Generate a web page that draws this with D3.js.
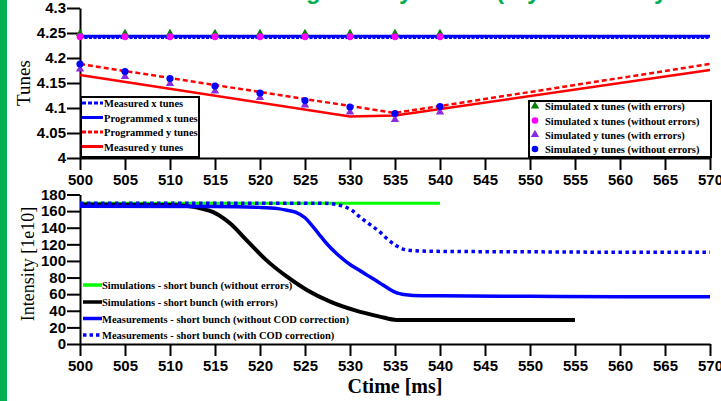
<!DOCTYPE html>
<html><head><meta charset="utf-8">
<script src="https://cdn.jsdelivr.net/npm/d3@7"></script>
<style>
body{margin:0;background:#fff;}
svg{display:block;}
.tick text{font-family:"Liberation Sans",Arial,sans-serif;font-weight:bold;font-size:15px;fill:#000;}
.leg{font-family:"Liberation Serif","Times New Roman",serif;font-weight:bold;font-size:10.5px;fill:#000;}
</style></head>
<body>
<script>
// ---------- data ----------
const xTicks = [500,505,510,515,520,525,530,535,540,545,550,555,560,565,570];
const tuneTicks = [4,4.05,4.1,4.15,4.2,4.25,4.3];
const intTicks = [0,20,40,60,80,100,120,140,160,180];

const simTime = [500,505,510,515,520,525,530,535,540];
const simXWithErr = [4.249,4.249,4.249,4.249,4.249,4.249,4.249,4.249,4.249];
const simXNoErr   = [4.2425,4.2425,4.2425,4.2425,4.2425,4.2425,4.2425,4.2425,4.2425];
const simYWithErr = [4.178,4.163,4.149,4.134,4.121,4.106,4.092,4.077,4.092];
const simYNoErr   = [4.188,4.173,4.159,4.144,4.130,4.115,4.102,4.089,4.103];

const progXTime = [500,570];           const progX = [4.2435,4.2435];
const measXTime = [500,570];           const measX = [4.2405,4.2405];
const progYTime = [500,535,570];       const progY = [4.188,4.090,4.188];
const measYTime = [500,530,535,570];   const measY = [4.166,4.083,4.085,4.176];

const greenTime = [500,540];           const greenInt = [169.5,169.5];
const blackTime = [500,510,512,513.5,514.8,516,516.7,518.5,520.7,523,525.2,527.8,530.4,533.3,535.2,540,555];
const blackInt  = [168,167.5,166,163,158.8,151,145,125,101,81,65,51,41,33,29,29,29];
const blueTime  = [500,515,520,522,523,524,525,525.6,526.5,527.4,528.5,529.6,531,532.2,533.3,534.4,535.2,536,537,540,550,560,570];
const blueInt   = [166,165.5,164.5,163,161,158.5,152,145,133,121,109,99,89,81,73.5,66,61.5,59.5,58.5,58,57.5,57,57];
const dotTime   = [500,520,527,528.5,529.5,530.2,531.2,532.2,533.2,534.2,535.2,536,537,540,550,560,570];
const dotInt    = [169.5,169.5,169.5,168,165,161,152,144,136,126,118,114,112.5,111.5,111,110.5,110.5];

const tuneLegend = ["Measured x tunes","Programmed x tunes","Programmed y tunes","Measured y tunes"];
const simLegend = ["Simulated x tunes (with errors)","Simulated x tunes (without errors)","Simulated y tunes (with errors)","Simulated y tunes (without errors)"];
const intLegend = ["Simulations - short bunch (without errors)","Simulations - short bunch (with errors)","Measurements - short bunch (without COD correction)","Measurements - short bunch (with COD correction)"];
const titleParts = ["g","y","(","y","y"];

// ---------- drawing ----------
const W=721,H=401;
const svg = d3.select("body").append("svg").attr("width",W).attr("height",H);
svg.append("rect").attr("x",0).attr("y",0).attr("width",7).attr("height",H).attr("fill","#00b050");

// title fragments (cut at top edge as in the reference)
const titleX=[306,399,496,527,654];
svg.selectAll("text.title").data(titleParts).join("text").attr("class","title")
  .attr("x",(d,i)=>titleX[i]).attr("y",-1)
  .attr("font-family","Liberation Sans, Arial, sans-serif").attr("font-weight","bold")
  .attr("font-size",24).attr("fill","#00b050").text(d=>d);

const x = d3.scaleLinear().domain([500,570]).range([80,710]);
const yT = d3.scaleLinear().domain([4,4.3]).range([158,8]);
const yB = d3.scaleLinear().domain([0,180]).range([344,194.5]);

function styleAxis(g){
  g.selectAll("path.domain").attr("stroke","#000").attr("stroke-width",2);
  g.selectAll(".tick line").attr("stroke","#000").attr("stroke-width",2);
}
// top axes
svg.append("g").attr("transform","translate(80,0)")
  .call(d3.axisLeft(yT).tickValues(tuneTicks).tickSize(13).tickSizeOuter(0).tickPadding(1).tickFormat(d3.format("~g")))
  .call(styleAxis);
svg.append("g").attr("transform","translate(0,158)")
  .call(d3.axisBottom(x).tickValues(xTicks).tickSize(12).tickSizeOuter(0).tickPadding(4).tickFormat(d3.format("d")))
  .call(styleAxis);
// bottom axes
svg.append("g").attr("transform","translate(80,0)")
  .call(d3.axisLeft(yB).tickValues(intTicks).tickSize(13).tickSizeOuter(0).tickPadding(1).tickFormat(d3.format("d")))
  .call(styleAxis);
svg.append("g").attr("transform","translate(0,344)")
  .call(d3.axisBottom(x).tickValues(xTicks).tickSize(12).tickSizeOuter(0).tickPadding(4).tickFormat(d3.format("d")))
  .call(styleAxis);

// axis titles
svg.append("text").attr("transform","translate(30,83) rotate(-90)").attr("text-anchor","middle")
  .attr("font-family","Liberation Serif, serif").attr("font-size",19).text("Tunes");
svg.append("text").attr("transform","translate(34,264) rotate(-90)").attr("text-anchor","middle")
  .attr("font-family","Liberation Serif, serif").attr("font-size",18).text("Intensity [1e10]");
svg.append("text").attr("x",395).attr("y",393).attr("text-anchor","middle")
  .attr("font-family","Liberation Serif, serif").attr("font-weight","bold").attr("font-size",20).text("Ctime [ms]");

// top lines
const lineT = (ts,vs)=>d3.line().x((d,i)=>x(ts[i])).y((d,i)=>yT(vs[i]))(vs);
svg.append("path").attr("d",lineT(progXTime,progX)).attr("fill","none").attr("stroke","#0000ff").attr("stroke-width",3);
svg.append("path").attr("d",lineT(measXTime,measX)).attr("fill","none").attr("stroke","#0000ff").attr("stroke-width",2.5).attr("stroke-dasharray","3,1.5");
svg.append("path").attr("d",lineT(progYTime,progY)).attr("fill","none").attr("stroke","#ff0000").attr("stroke-width",2.5).attr("stroke-dasharray","5,3");
svg.append("path").attr("d",lineT(measYTime,measY)).attr("fill","none").attr("stroke","#ff0000").attr("stroke-width",2.5);

const tri = d3.symbol().type(d3.symbolTriangle).size(30);
function tris(vals,color){
  svg.append("g").selectAll("path").data(vals).join("path").attr("d",tri)
    .attr("transform",(d,i)=>`translate(${x(simTime[i])},${yT(d)})`).attr("fill",color);
}
function dots(vals,color,r){
  svg.append("g").selectAll("circle").data(vals).join("circle")
    .attr("cx",(d,i)=>x(simTime[i])).attr("cy",d=>yT(d)).attr("r",r).attr("fill",color);
}
tris(simXWithErr,"#008000");
dots(simXNoErr,"#ff00ff",3.4);
tris(simYWithErr,"#8a2be2");
dots(simYNoErr,"#0000ff",3.6);

// top-left legend
const lg1 = svg.append("g");
lg1.append("rect").attr("x",81).attr("y",97).attr("width",118).attr("height",60).attr("fill","#fff").attr("stroke","#000").attr("stroke-width",2);
const tlStyles=[{c:"#0000ff",d:"4,2"},{c:"#0000ff",d:null},{c:"#ff0000",d:"4,2"},{c:"#ff0000",d:null}];
const tlRows=[103,117.5,132,146.5];
tuneLegend.forEach((t,i)=>{
  lg1.append("line").attr("x1",82).attr("x2",103).attr("y1",tlRows[i]).attr("y2",tlRows[i])
    .attr("stroke",tlStyles[i].c).attr("stroke-width",3).attr("stroke-dasharray",tlStyles[i].d);
  lg1.append("text").attr("class","leg").attr("x",104).attr("y",tlRows[i]+4).text(t);
});
// right legend
const lg2 = svg.append("g");
lg2.append("rect").attr("x",529).attr("y",101).attr("width",182).attr("height",56).attr("fill","#fff").attr("stroke","#000").attr("stroke-width",2);
const trRows=[106,120.5,134.5,149];
const trMarks=[{s:"t",c:"#008000"},{s:"c",c:"#ff00ff"},{s:"t",c:"#8a2be2"},{s:"c",c:"#0000ff"}];
simLegend.forEach((t,i)=>{
  if(trMarks[i].s==="t") lg2.append("path").attr("d",tri).attr("transform",`translate(535,${trRows[i]})`).attr("fill",trMarks[i].c);
  else lg2.append("circle").attr("cx",535).attr("cy",trRows[i]).attr("r",3.3).attr("fill",trMarks[i].c);
  lg2.append("text").attr("class","leg").attr("x",545).attr("y",trRows[i]+4).text(t);
});

// bottom lines
const lineB = (ts,vs)=>d3.line().curve(d3.curveMonotoneX).x((d,i)=>x(ts[i])).y((d,i)=>yB(vs[i]))(vs);
svg.append("path").attr("d",lineB(greenTime,greenInt)).attr("fill","none").attr("stroke","#00ff00").attr("stroke-width",3);
svg.append("path").attr("d",lineB(blackTime,blackInt)).attr("fill","none").attr("stroke","#000").attr("stroke-width",4);
svg.append("path").attr("d",lineB(blueTime,blueInt)).attr("fill","none").attr("stroke","#0000ff").attr("stroke-width",3.5);
svg.append("path").attr("d",lineB(dotTime,dotInt)).attr("fill","none").attr("stroke","#0000ff").attr("stroke-width",3.5).attr("stroke-dasharray","3.5,3.5");

// bottom legend
const lg3 = svg.append("g");
const blRows=[285,302,318.5,335];
const blStyles=[{c:"#00ff00",d:null},{c:"#000",d:null},{c:"#0000ff",d:null},{c:"#0000ff",d:"3.5,3"}];
intLegend.forEach((t,i)=>{
  lg3.append("line").attr("x1",83).attr("x2",102).attr("y1",blRows[i]).attr("y2",blRows[i])
    .attr("stroke",blStyles[i].c).attr("stroke-width",3.5).attr("stroke-dasharray",blStyles[i].d);
  lg3.append("text").attr("class","leg").attr("x",102).attr("y",blRows[i]+4).text(t);
});
</script>
</body></html>
